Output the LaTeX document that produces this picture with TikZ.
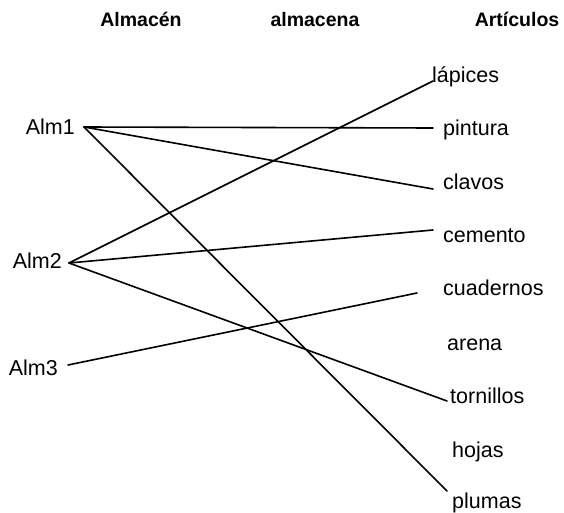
\documentclass[tikz,border=0pt]{standalone}
\usepackage{fontspec}
\setmainfont{Liberation Sans}
\begin{document}
\begin{tikzpicture}[x=1pt,y=-1pt,
  hdr/.style={font=\fontsize{19.5}{19.5}\selectfont\bfseries, anchor=base, inner sep=0pt},
  lbl/.style={font=\fontsize{21.5}{21.5}\selectfont, inner sep=0pt},
  lnk/.style={line width=1.6pt, line cap=round}]
\useasboundingbox (0,0) rectangle (564,513);
% headers
\node[hdr] (hA) at (141,27) {Almacén};
\node[hdr] (hB) at (315,27) {almacena};
\node[hdr] (hC) at (517,27) {Artículos};
% left labels
\node[lbl, anchor=base east] (alm1) at (75,135) {Alm1};
\node[lbl, anchor=base east] (alm2) at (62,268) {Alm2};
\node[lbl, anchor=base east] (alm3) at (58,375) {Alm3};
% right labels
\node[lbl, anchor=base west] (lap) at (432,83) {lápices};
\node[lbl, anchor=base west] (pin) at (443,136) {pintura};
\node[lbl, anchor=base west] (cla) at (443,189) {clavos};
\node[lbl, anchor=base west] (cem) at (443,242) {cemento};
\node[lbl, anchor=base west] (cua) at (443,295) {cuadernos};
\node[lbl, anchor=base west] (are) at (447,350) {arena};
\node[lbl, anchor=base west] (tor) at (450,403) {tornillos};
\node[lbl, anchor=base west] (hoj) at (452,457) {hojas};
\node[lbl, anchor=base west] (plu) at (452,508) {plumas};
% connector ends
\coordinate (s1) at (84,127);
\coordinate (s2) at (69,263);
\coordinate (s3) at (68,365);
\coordinate (eLap) at (433,81);
\coordinate (ePin) at (433,128);
\coordinate (eCla) at (433,189);
\coordinate (eCem) at (433,230);
\coordinate (eCua) at (417,293);
\coordinate (eTor) at (447,401);
\coordinate (ePlu) at (447,491);
% connectors
\draw[lnk] (s1) -- (ePin);
\draw[lnk] (s1) -- (eCla);
\draw[lnk] (s1) -- (ePlu);
\draw[lnk] (s2) -- (eLap);
\draw[lnk] (s2) -- (eCem);
\draw[lnk] (s2) -- (eTor);
\draw[lnk] (s3) -- (eCua);
\end{tikzpicture}
\end{document}
